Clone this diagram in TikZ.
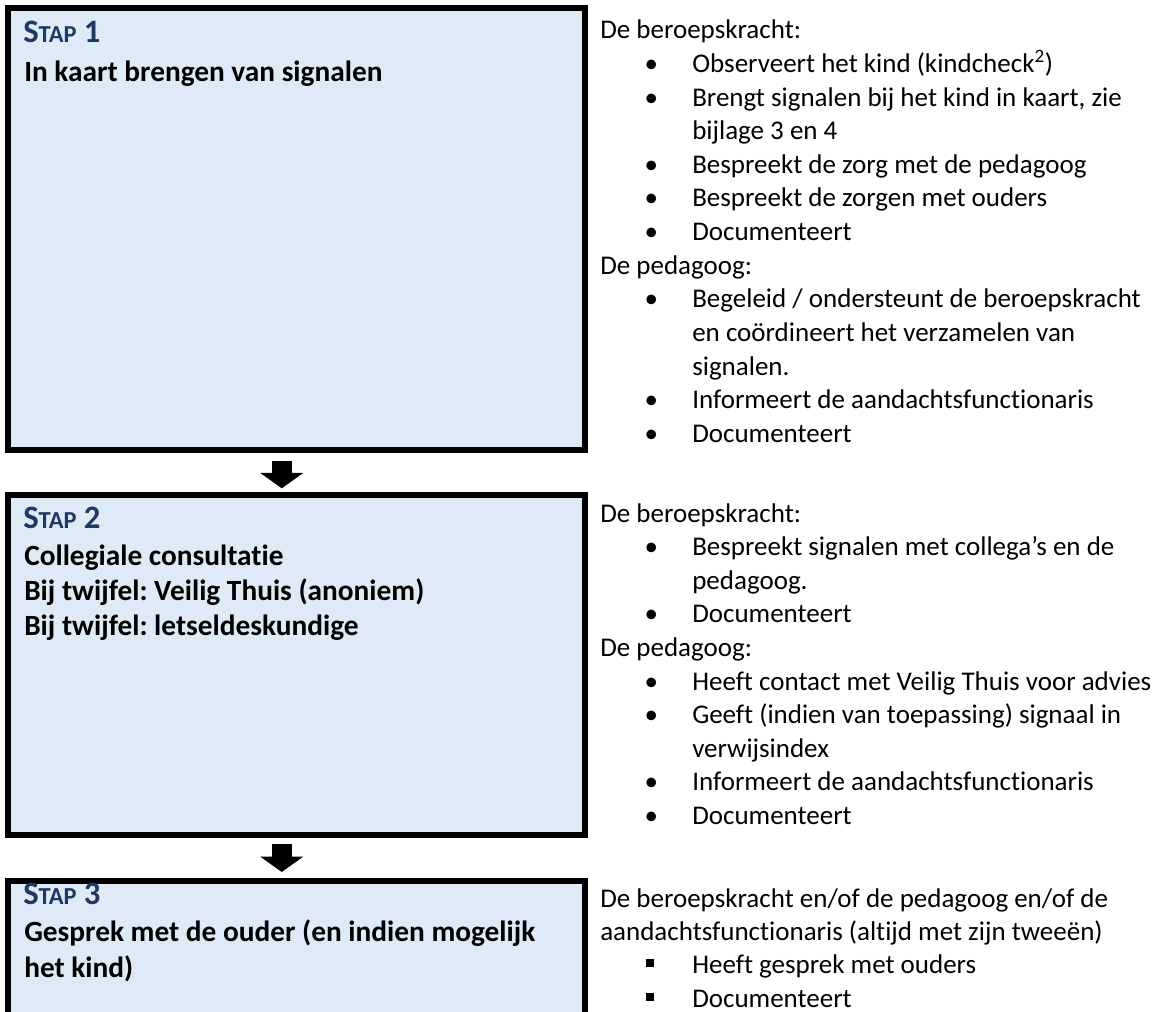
\documentclass[tikz,border=0pt]{standalone}
\usepackage{fontspec}
\setmainfont{Carlito}[Ligatures=NoCommon]
\usetikzlibrary{arrows.meta,calc}
\definecolor{boxfill}{HTML}{DEEBF7}
\definecolor{stapblue}{HTML}{1F3864}
\frenchspacing
\newcommand\stapnum[1]{{\fontsize{24.5}{28}\selectfont S\fontsize{18.3}{21}\selectfont TAP\hspace{0.3em}\fontsize{24.5}{28}\selectfont #1}}
\newcommand\bul{\llap{\makebox[0pt]{\textbullet}\hspace*{30.75pt}}}
\newcommand\sqb{\llap{\raisebox{4.9pt}{\rule{6pt}{6pt}}\hspace*{28.9pt}}}
\begin{document}
\begin{tikzpicture}[x=0.75pt,y=-0.75pt,
  stapbox/.style={draw=black, line width=4.5pt, fill=boxfill, inner sep=0pt, outer sep=0pt},
  rtext/.style={anchor=base west, inner sep=0pt, font=\fontsize{20.25}{24.75}\selectfont},
  ltext/.style={anchor=base west, inner sep=0pt, font=\bfseries\fontsize{22}{27}\selectfont},
  staptext/.style={ltext, text=stapblue},
  blockarr/.style={line width=15pt, -{Triangle[length=11.5pt 0 0, width=32.25pt 0 0, line width=0pt 0 0]}}]
\useasboundingbox (0,0) rectangle (1159,1012);
\clip (0,0) rectangle (1159,1012);

% boxes
\node[stapbox, minimum width=432.375pt, minimum height=331.275pt] (b1) at (296.25,228.85) {};
\node[stapbox, minimum width=432.375pt, minimum height=255pt] (b2) at (296.25,665) {};
\node[stapbox, minimum width=432.375pt, minimum height=119.25pt] (b3) at (296.25,960.5) {};

% arrows
\draw[blockarr] ($(b1.south)+(-14.5,11)$) -- ($(b2.north)+(-14.5,-6.7)$);
\draw[blockarr] ($(b2.south)+(-14.5,9)$) -- ($(b3.north)+(-14.5,-9)$);

% left texts
\node[staptext] (s1) at (23,42.7) {\stapnum{1}};
\node[ltext] (t1) at (24,81.7) {In kaart brengen van signalen};
\node[staptext] (s2) at (23,528) {\stapnum{2}};
\node[ltext] (t2a) at (24,565) {Collegiale consultatie};
\node[ltext] (t2b) at (24,600) {Bij twijfel: Veilig Thuis (anoniem)};
\node[ltext] (t2c) at (24,635) {Bij twijfel: letseldeskundige};
\node[staptext] (s3) at (23,904) {\stapnum{3}};
\node[ltext] (t3a) at (24,941) {Gesprek met de ouder (en indien mogelijk};
\node[ltext] (t3b) at (24,977) {het kind)};

% right texts, section 1
\node[rtext] (r1a) at (600,39) {De beroepskracht:};
\node[rtext] (r1b) at (692,72.6) {\bul Observeert het kind (kindcheck\textsuperscript{2})};
\node[rtext] (r1c) at (692,106.2) {\bul Brengt signalen bij het kind in kaart, zie};
\node[rtext] (r1d) at (692,139.8) {bijlage 3 en 4};
\node[rtext] (r1e) at (692,173.4) {\bul Bespreekt de zorg met de pedagoog};
\node[rtext] (r1f) at (692,207) {\bul Bespreekt de zorgen met ouders};
\node[rtext] (r1g) at (692,240.6) {\bul Documenteert};
\node[rtext] (r1h) at (600,274.2) {De pedagoog:};
\node[rtext] (r1i) at (692,307.8) {\bul Begeleid / ondersteunt de beroepskracht};
\node[rtext] (r1j) at (692,341.4) {en coördineert het verzamelen van};
\node[rtext] (r1k) at (692,375) {signalen.};
\node[rtext] (r1l) at (692,408.6) {\bul Informeert de aandachtsfunctionaris};
\node[rtext] (r1m) at (692,442.2) {\bul Documenteert};

% section 2
\node[rtext] (r2a) at (600,522) {De beroepskracht:};
\node[rtext] (r2b) at (692,555.6) {\bul Bespreekt signalen met collega’s en de};
\node[rtext] (r2c) at (692,589.2) {pedagoog.};
\node[rtext] (r2d) at (692,622.8) {\bul Documenteert};
\node[rtext] (r2e) at (600,656.4) {De pedagoog:};
\node[rtext] (r2f) at (692,690) {\bul Heeft contact met Veilig Thuis voor advies};
\node[rtext] (r2g) at (692,723.6) {\bul Geeft (indien van toepassing) signaal in};
\node[rtext] (r2h) at (692,757.2) {verwijsindex};
\node[rtext] (r2i) at (692,790.8) {\bul Informeert de aandachtsfunctionaris};
\node[rtext] (r2j) at (692,824.4) {\bul Documenteert};

% section 3
\node[rtext] (r3a) at (600,907) {De beroepskracht en/of de pedagoog en/of de};
\node[rtext] (r3b) at (600,940.4) {aandachtsfunctionaris (altijd met zijn tweeën)};
\node[rtext] (r3c) at (692,973.8) {\sqb Heeft gesprek met ouders};
\node[rtext] (r3d) at (692,1007.2) {\sqb Documenteert};
\end{tikzpicture}
\end{document}
